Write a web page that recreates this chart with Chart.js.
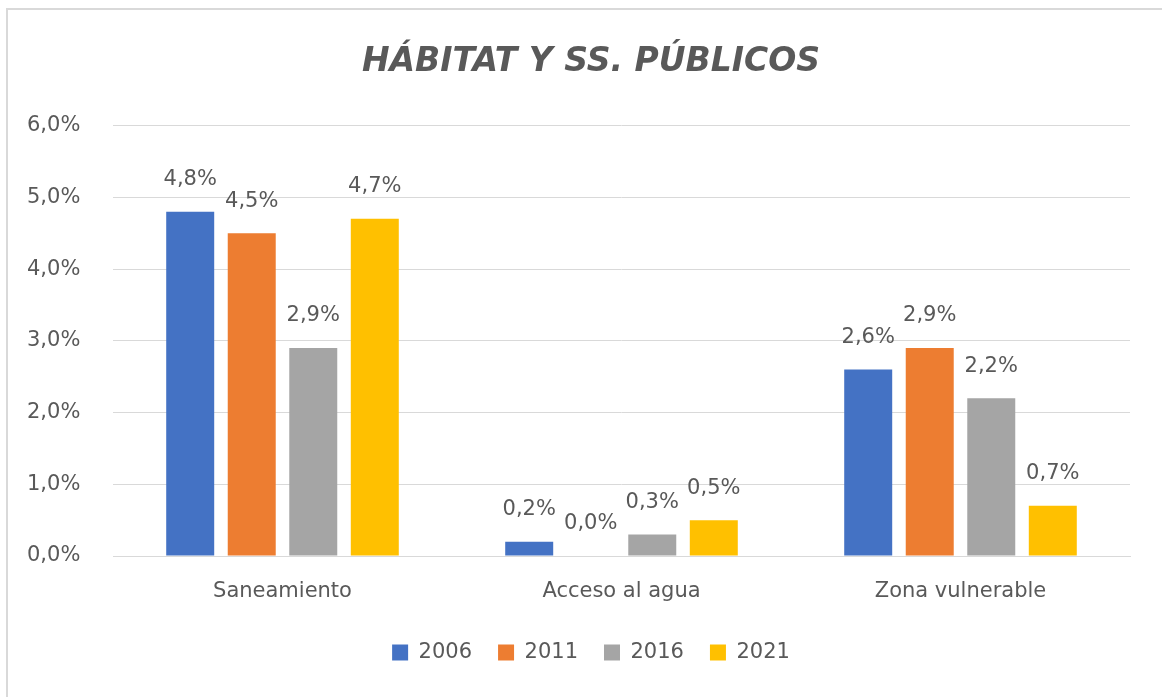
<!DOCTYPE html>
<html lang="es">
<head>
<meta charset="UTF-8">
<title>Hábitat y SS. Públicos</title>
<script src="https://cdn.jsdelivr.net/npm/chart.js"></script>
<style>
    body {
        margin: 0;
        background: #ffffff;
        overflow: hidden;
    }
    #frame {
        position: absolute;
        left: 6px;
        top: 8px;
        width: 1200px;
        height: 720px;
        border-left: 2px solid #d9d9d9;
        border-top: 2px solid #d9d9d9;
    }
    #wrap {
        position: absolute;
        left: 0;
        top: 0;
        width: 1162px;
        height: 697px;
    }
</style>
</head>
<body>
<div id="frame"></div>
<div id="wrap"><canvas id="myChart" width="1162" height="697"></canvas></div>
<script>
    const categories = ['Saneamiento', 'Acceso al agua', 'Zona vulnerable'];
    const years = ['2006', '2011', '2016', '2021'];
    const values2006 = [4.8, 0.2, 2.6];
    const values2011 = [4.5, 0.0, 2.9];
    const values2016 = [2.9, 0.3, 2.2];
    const values2021 = [4.7, 0.5, 0.7];
    const colors = ['#4472C4', '#ED7D31', '#A5A5A5', '#FFC000'];
    const textColor = '#595959';
    const font = "'DejaVu Sans', sans-serif";

    const fmt = v => v.toFixed(1).replace('.', ',') + '%';

    // labels above each bar, like the spreadsheet version
    const barLabels = {
        id: 'barLabels',
        afterDatasetsDraw(chart) {
            const ctx = chart.ctx;
            ctx.save();
            ctx.font = '21px ' + font;
            ctx.fillStyle = textColor;
            ctx.textAlign = 'center';
            ctx.textBaseline = 'middle';
            chart.data.datasets.forEach((ds, i) => {
                chart.getDatasetMeta(i).data.forEach((bar, j) => {
                    ctx.fillText(fmt(ds.data[j]), bar.x, bar.y - 32);
                });
            });
            ctx.restore();
        }
    };

    const series = [values2006, values2011, values2016, values2021];
    const datasets = years.map((y, i) => ({
        label: y,
        data: series[i],
        backgroundColor: colors[i],
        borderWidth: 0,
        barPercentage: 0.78,
        categoryPercentage: 0.726
    }));

    new Chart(document.getElementById('myChart'), {
        type: 'bar',
        data: { labels: categories, datasets: datasets },
        plugins: [barLabels],
        options: {
            responsive: false,
            animation: false,
            layout: { padding: { top: 8, right: 32, bottom: 24, left: 52 } },
            plugins: {
                tooltip: { enabled: false },
                title: {
                    display: true,
                    text: 'HÁBITAT Y SS. PÚBLICOS',
                    color: textColor,
                    font: { family: font, size: 33, weight: 'bold', style: 'italic', lineHeight: 1.2 },
                    padding: { top: 35, bottom: 43 }
                },
                legend: {
                    position: 'bottom',
                    labels: {
                        color: textColor,
                        font: { family: font, size: 21 },
                        boxWidth: 16,
                        boxHeight: 16,
                        padding: 26
                    }
                }
            },
            scales: {
                x: {
                    grid: { display: false, drawTicks: false },
                    border: { color: '#d9d9d9', width: 1 },
                    ticks: { color: textColor, font: { family: font, size: 21 }, padding: 23 },
                    afterFit(scale) { scale.height = 60; }
                },
                y: {
                    min: 0,
                    max: 6,
                    grid: { color: '#d9d9d9', drawTicks: false },
                    border: { display: false },
                    ticks: {
                        stepSize: 1,
                        mirror: true,
                        padding: -86,
                        color: textColor,
                        font: { family: font, size: 21 },
                        callback: v => fmt(v)
                    },
                    afterFit(scale) { scale.width = 61; }
                }
            }
        }
    });
</script>
</body>
</html>
